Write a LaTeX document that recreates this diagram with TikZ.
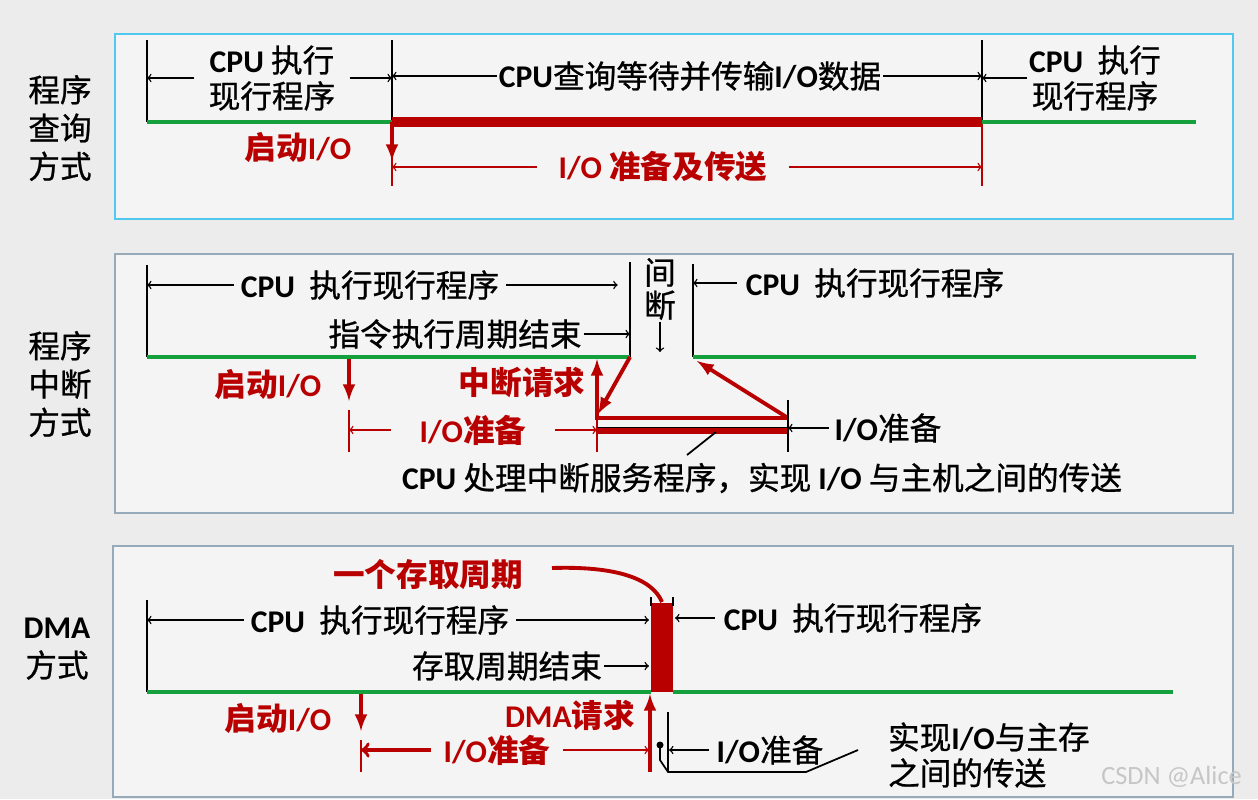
\documentclass[tikz,border=0pt]{standalone}
\usepackage{fontspec}
\setmainfont{Noto Sans CJK SC}[UprightFeatures={FakeBold=0.8}]
\newfontfamily\latfont{Carlito}
\newcommand{\eng}[1]{{\latfont\bfseries #1}}
\definecolor{dred}{RGB}{185,0,0}
\definecolor{grn}{RGB}{20,160,60}
\definecolor{bgc}{RGB}{236,236,236}
\definecolor{panelbg}{RGB}{244,244,244}
\definecolor{cyanb}{RGB}{80,200,240}
\definecolor{grayb}{RGB}{150,170,185}
\tikzset{
  txt/.style={font=\fontsize{18}{20.4}\selectfont, inner sep=1pt, align=center},
  redtxt/.style={txt, text=dred, font=\fontsize{18}{20.4}\selectfont\bfseries},
  side/.style={txt, font=\fontsize{18}{21.8}\selectfont},
  vtick/.style={line width=1.1pt},
  dim/.style={-to, line width=0.8pt},
  reddim/.style={dim, dred},
  grnline/.style={grn, line width=2.4pt},
  redbar/.style={dred, line width=5.7pt},
  redarr/.style={->, dred, line width=2.2pt},
  panel/.style={fill=panelbg, line width=1.2pt},
}
\begin{document}
\begin{tikzpicture}[x=0.02cm, y=-0.02cm, >=latex]
\fill[bgc] (0,0) rectangle (1258,799);
\useasboundingbox (0,0) rectangle (1258,799);

% program polling
\draw[panel, draw=cyanb] (115,34) rectangle (1233,219);
\node[side] (m1) at (60,128) {程序\\查询\\方式};
\coordinate (a0) at (147,122);
\coordinate (a1) at (392,122);
\coordinate (a2) at (982,122);
\coordinate (a3) at (1196,122);
\draw[vtick] (147,40) -- (a0);
\draw[vtick] (392,40) -- (a1);
\draw[vtick] (982,40) -- (a2);
\draw[dred, line width=1.1pt] (a1) -- (392,186);
\draw[dred, line width=1.1pt] (a2) -- (982,186);
\draw[grnline] (a0) -- (a1);
\draw[grnline] (a2) -- (a3);
\draw[redbar] (a1) -- (a2);
\draw[redarr] (a1) -- (392,161);
\node[txt, inner xsep=8pt] (a-run1) at (272,78) {\eng{CPU} 执行\\现行程序};
\draw[dim] (a-run1.west) -- (a-run1.west -| a0);
\draw[dim] (a-run1.east) -- (a-run1.east -| a1);
\node[txt] (a-poll) at (690,76) {\eng{CPU}查询等待并传输\eng{I/O}数据};
\draw[dim] (a-poll.west) -- (a-poll.west -| a1);
\draw[dim] (a-poll.east) -- (a-poll.east -| a2);
\node[txt] (a-run2) at (1095,78) {\eng{CPU}~~执行\\现行程序};
\draw[dim] (a-run2.west) -- (a-run2.west -| a2);
\node[redtxt] (a-start) at (298,148) {启动\eng{I/O}};
\node[redtxt, inner xsep=12pt] (a-prep) at (663,167) {\eng{I/O} 准备及传送};
\draw[reddim] (a-prep.west) -- (a-prep.west -| a1);
\draw[reddim] (a-prep.east) -- (a-prep.east -| a2);

% program interrupt
\draw[panel, draw=grayb] (115,254) rectangle (1233,513);
\node[side] (m2) at (60,384) {程序\\中断\\方式};
\coordinate (b0) at (147,357);
\coordinate (b1) at (630,357);
\coordinate (b2) at (693,357);
\coordinate (b3) at (1196,357);
\coordinate (b4) at (349,359);
\coordinate (b5) at (597,359);
\draw[vtick] (147,265) -- (b0);
\draw[vtick] (630,262) -- (b1);
\draw[vtick] (693,264) -- (b2);
\draw[grnline] (b0) -- (b1);
\draw[grnline] (b2) -- (b3);
\node[txt, inner xsep=4pt] (b-run1) at (370,285) {\eng{CPU}~~执行现行程序};
\draw[dim] (b-run1.west) -- (b-run1.west -| b0);
\draw[dim, shorten >=7pt] (b-run1.east) -- (b-run1.east -| b1);
\node[txt] (b-end) at (455,334) {指令执行周期结束};
\draw[dim] (b-end.east) -- (b-end.east -| b1);
\node[txt, font=\fontsize{18}{18.7}\selectfont] (b-gap) at (660,289) {间\\断};
\draw[dim] (b-gap.south) -- (660,352);
\node[txt, inner xsep=5pt] (b-run2) at (875,283) {\eng{CPU}~~执行现行程序};
\draw[dim] (b-run2.west) -- (b-run2.west -| b2);
\node[redtxt] (b-start) at (268,385) {启动\eng{I/O}};
\draw[redarr] (b4) -- (349,401);
\draw[dred, line width=1pt] (349,410) -- (349,452);
\node[redtxt, inner xsep=16pt] (b-prep) at (473,430) {\eng{I/O}准备};
\draw[reddim] (b-prep.west) -- (b-prep.west -| b4);
\draw[reddim] (b-prep.east) -- (b-prep.east -| b5);
\node[redtxt] (b-irq) at (522,383) {中断请求};
\draw[redarr] (597,420) -- (b5);
\draw[dred, line width=1.1pt] (597,418) -- (597,452);
\draw[redarr] (b1) -- (598,414);
\draw[dred, line width=2.6pt] (597,418) -- (788,418);
\draw[redarr] (788,418) -- (697,361);
\draw[dred, line width=3.4pt] (597,431) -- (788,431);
\draw[line width=0.9pt] (597,427.5) -- (788,427.5);
\draw[vtick] (788,400) -- (788,452);
\node[txt, inner xsep=3pt] (b-prep2) at (888,428) {\eng{I/O}准备};
\draw[dim] (b-prep2.west) -- (788,428);
\node[txt] (b-isr) at (762,478) {\eng{CPU} 处理中断服务程序，实现 \eng{I/O} 与主机之间的传送};
\draw[line width=1pt] (716,432) -- (687,455);

% DMA
\draw[panel, draw=grayb] (113,546) rectangle (1233,797);
\node[side] (m3) at (57,649) {\eng{DMA}\\方式};
\coordinate (c0) at (147,692);
\coordinate (c1) at (651,692);
\coordinate (c2) at (673,692);
\coordinate (c3) at (1173,692);
\coordinate (c4) at (361,694);
\coordinate (c5) at (650,694);
\draw[vtick] (147,600) -- (c0);
\fill[dred] (651,603) rectangle (673,692);
\draw[vtick] (651,597) -- (651,606);
\draw[vtick] (673,597) -- (673,606);
\draw[grnline] (c0) -- (c1);
\draw[grnline] (c2) -- (c3);
\node[redtxt] (c-cycle) at (428,575) {一个存取周期};
\draw[dred, line width=2.2pt] (552,568) .. controls (615,566) and (652,578) .. (662,602);
\node[txt, inner xsep=4pt] (c-run1) at (380,620) {\eng{CPU}~~执行现行程序};
\draw[dim] (c-run1.west) -- (c-run1.west -| c0);
\draw[dim] (c-run1.east) -- (649,620);
\node[txt, inner xsep=5pt] (c-run2) at (853,618) {\eng{CPU}~~执行现行程序};
\draw[dim] (c-run2.west) -- (675,618);
\node[txt] (c-end) at (507,666) {存取周期结束};
\draw[dim] (c-end.east) -- (649,666);
\node[redtxt] (c-start) at (278,718) {启动\eng{I/O}};
\draw[redarr] (c4) -- (361,731);
\draw[dred, line width=1pt] (361,740) -- (361,772);
\node[redtxt, inner xsep=7pt] (c-prep) at (497,750) {\eng{I/O}准备};
\draw[reddim, line width=2pt] (c-prep.west) -- (c-prep.west -| c4);
\draw[reddim] (c-prep.east) -- (649,750);
\node[redtxt] (c-req) at (570,715) {\eng{DMA}请求};
\draw[redarr] (650,772) -- (c5);
\draw[line width=1pt] (668,712) -- (668,772);
\node[txt, inner xsep=4pt] (c-prep2) at (770,750) {\eng{I/O}准备};
\draw[dim] (c-prep2.west) -- (669,750);
\fill (660,745) circle (3.5);
\draw[line width=1pt] (660,745) -- (660,760) -- (668,772) -- (806,772) -- (858,750);
\node[txt, anchor=west, align=left] (c-xfer) at (886,755) {实现\eng{I/O}与主存\\之间的传送};
\node[text=gray!45, font=\fontsize{15}{16}\selectfont\latfont, anchor=east] (mark) at (1248,777) {CSDN @Alice};
\end{tikzpicture}
\end{document}
